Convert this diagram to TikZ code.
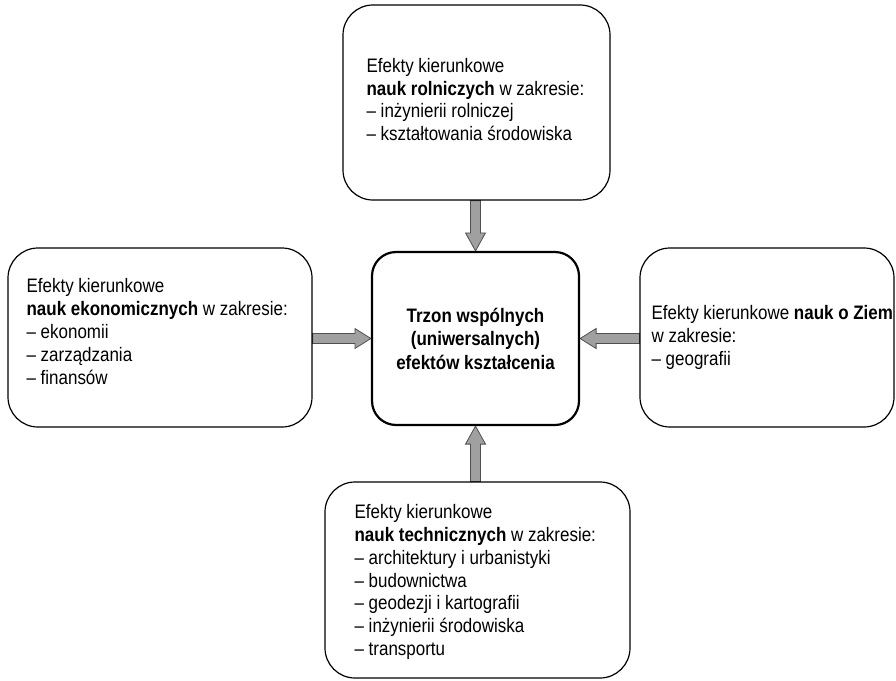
\documentclass[tikz,border=0pt]{standalone}
\usepackage{fontspec}
\setmainfont{Liberation Sans}[FakeStretch=0.87]
\usetikzlibrary{calc}
\pgfdeclarelayer{bg}
\pgfsetlayers{bg,main}
\definecolor{arrfill}{RGB}{160,160,160}
\definecolor{arrline}{RGB}{80,80,80}
\begin{document}
\begin{tikzpicture}[x=1pt,y=-1pt,
  box/.style={draw=black, line width=1.2pt, rounded corners=30pt, inner sep=0pt},
  ctrbox/.style={draw=black, line width=2.2pt, rounded corners=24pt, inner sep=0pt, align=center,
    font=\fontsize{19.5}{23.5}\selectfont\bfseries},
  txt/.style={inner sep=0pt, align=left, font=\fontsize{19.5}{22.8}\selectfont},
  blockarrow/.style={fill=arrfill, draw=arrline, line width=0.8pt, line join=miter}]
\useasboundingbox (0,0) rectangle (896,680);
\node[box, minimum width=267pt, minimum height=195pt] (topbox) at (476.5,102.5) {};
\node[box, minimum width=304pt, minimum height=179pt] (leftbox) at (160,337.5) {};
\node[box, minimum width=254pt, minimum height=179pt] (rightbox) at (767,337.5) {};
\node[box, minimum width=305pt, minimum height=196pt] (botbox) at (477.5,580) {};
\node[ctrbox, minimum width=207pt, minimum height=173pt] (ctr) at (475.5,338.5)
  {Trzon wspólnych\\(uniwersalnych)\\efektów kształcenia};

\node[txt, anchor=west] (toptext) at ($(topbox.west)+(24,-3)$)
  {Efekty kierunkowe\\\textbf{nauk rolniczych} w zakresie:\\– inżynierii rolniczej\\– kształtowania środowiska};
\node[txt, anchor=west] (lefttext) at ($(leftbox.west)+(19,-6)$)
  {Efekty kierunkowe\\\textbf{nauk ekonomicznych} w zakresie:\\– ekonomii\\– zarządzania\\– finansów};
\node[txt, anchor=west] (righttext) at ($(rightbox.west)+(12,0)$)
  {Efekty kierunkowe \textbf{nauk o Ziem}\\w zakresie:\\– geografii};
\node[txt, anchor=west] (bottext) at ($(botbox.west)+(30,2)$)
  {Efekty kierunkowe\\\textbf{nauk technicznych} w zakresie:\\– architektury i urbanistyki\\– budownictwa\\– geodezji i kartografii\\– inżynierii środowiska\\– transportu};

\begin{pgfonlayer}{bg}
\draw[blockarrow] ($(topbox.south -| ctr.north)+(-5,0)$) -- ($(ctr.north)+(-5,-18)$) -- ($(ctr.north)+(-10,-18)$)
  -- (ctr.north) -- ($(ctr.north)+(10,-18)$) -- ($(ctr.north)+(5,-18)$) -- ($(topbox.south -| ctr.north)+(5,0)$) -- cycle;
\draw[blockarrow] ($(botbox.north -| ctr.south)+(-5,0)$) -- ($(ctr.south)+(-5,18)$) -- ($(ctr.south)+(-10,18)$)
  -- (ctr.south) -- ($(ctr.south)+(10,18)$) -- ($(ctr.south)+(5,18)$) -- ($(botbox.north -| ctr.south)+(5,0)$) -- cycle;
\draw[blockarrow] ($(leftbox.east |- ctr.west)+(0,-5)$) -- ($(ctr.west)+(-16,-5)$) -- ($(ctr.west)+(-16,-10)$)
  -- (ctr.west) -- ($(ctr.west)+(-16,10)$) -- ($(ctr.west)+(-16,5)$) -- ($(leftbox.east |- ctr.west)+(0,5)$) -- cycle;
\draw[blockarrow] ($(rightbox.west |- ctr.east)+(0,-5)$) -- ($(ctr.east)+(16,-5)$) -- ($(ctr.east)+(16,-10)$)
  -- (ctr.east) -- ($(ctr.east)+(16,10)$) -- ($(ctr.east)+(16,5)$) -- ($(rightbox.west |- ctr.east)+(0,5)$) -- cycle;
\end{pgfonlayer}
\end{tikzpicture}
\end{document}
